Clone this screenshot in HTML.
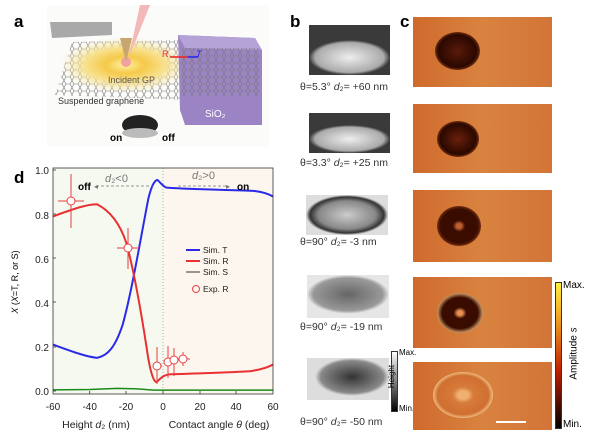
<!DOCTYPE html>
<html><head><meta charset="utf-8"><style>
body{margin:0;width:600px;height:439px;background:#fff;overflow:hidden;position:relative;font-family:"Liberation Sans",sans-serif}
.abs{position:absolute}
.lab{position:absolute;font-weight:bold;font-size:17px}
.bimg{position:absolute}
.blab{position:absolute;font-size:10.5px;color:#333;white-space:nowrap}
.cimg{position:absolute;left:413px;width:139px;background:linear-gradient(90deg,#cf6a2c,#d98340 50%,#d27437);}
.ring{position:absolute;border-radius:50%}
</style></head><body>
<div class="lab" style="left:14px;top:12px">a</div>
<div class="lab" style="left:290px;top:12px">b</div>
<div class="lab" style="left:400px;top:12px">c</div>
<div class="lab" style="left:14px;top:168px">d</div>

<!-- panel a -->
<svg class="abs" style="left:0;top:0" width="290" height="160">
<defs><pattern id="hx" width="8" height="7" patternUnits="userSpaceOnUse"><path d="M0 3.5 L2 0 L6 0 L8 3.5 L6 7 L2 7Z" fill="none" stroke="#777" stroke-width="0.6"/></pattern>
<radialGradient id="yl"><stop offset="0" stop-color="#fff2a0"/><stop offset="0.3" stop-color="#f5c94a"/><stop offset="0.6" stop-color="#f8e08a"/><stop offset="1" stop-color="#f6e9b0" stop-opacity="0"/></radialGradient></defs>
<rect x="47" y="5" width="222" height="142" fill="#fbfbfa"/>
<path d="M72 42 L190 40 L185 100 L55 95Z" fill="url(#hx)"/>
<ellipse cx="125" cy="65" rx="65" ry="28" fill="url(#yl)"/>
<circle cx="126" cy="62" r="5" fill="#f3a0a0"/>
<path d="M50 22 L112 22 L112 35 L52 38Z" fill="#a9a9a9"/>
<path d="M120 38 L126 62 L132 38Z" fill="#c8a66f"/>
<path d="M140 5 L128 60 L150 5Z" fill="#f3b8b8"/>
<path d="M178 35 L255 38 L262 50 L262 125 L185 125 L180 110Z" fill="#9c84c4"/>
<path d="M178 35 L255 38 L262 50 L185 48Z" fill="#b5a3d8"/>
<rect x="182" y="48" width="78" height="48" fill="url(#hx)"/>
<text x="205" y="117" font-size="10" fill="#fff">SiO₂</text>
<text x="108" y="83" font-size="9" fill="#555">Incident GP</text>
<text x="58" y="104" font-size="9" fill="#333">Suspended graphene</text>
<text x="162" y="57" font-size="9" fill="#e22">R</text>
<text x="196" y="57" font-size="9" fill="#22e" font-style="italic">T</text>
<path d="M170 57 l18 0" stroke="#e22" stroke-width="1.5"/><path d="M188 57 l10 0" stroke="#22e" stroke-width="1.5"/>
<ellipse cx="140" cy="125" rx="18" ry="10" fill="#222"/>
<ellipse cx="140" cy="133" rx="18" ry="5" fill="#bbb"/>
<text x="110" y="141" font-size="10" font-weight="bold">on</text>
<text x="162" y="141" font-size="10" font-weight="bold">off</text>
</svg>

<!-- panel b -->
<div class="bimg" style="left:309px;top:25px;width:81px;height:50px;background:radial-gradient(ellipse closest-side at 50% 65%,#eee,#aaa 85%,#3a3a3a 100%)"></div>
<div class="blab" style="left:300px;top:81px">θ=5.3°  <i>d</i>₂= +60 nm</div>
<div class="bimg" style="left:309px;top:113px;width:81px;height:40px;background:radial-gradient(ellipse closest-side at 50% 65%,#eee,#aaa 85%,#3a3a3a 100%)"></div>
<div class="blab" style="left:300px;top:157px">θ=3.3°  <i>d</i>₂= +25 nm</div>
<div class="bimg" style="left:306px;top:195px;width:82px;height:40px;background:radial-gradient(ellipse closest-side at 50% 50%,#ccc,#888 70%,#333 90%,#ddd 100%)"></div>
<div class="blab" style="left:300px;top:236px">θ=90°  <i>d</i>₂= -3 nm</div>
<div class="bimg" style="left:307px;top:275px;width:82px;height:43px;background:radial-gradient(ellipse closest-side at 50% 45%,#666,#999 85%,#e6e6e6 100%)"></div>
<div class="blab" style="left:300px;top:321px">θ=90°  <i>d</i>₂= -19 nm</div>
<div class="bimg" style="left:307px;top:358px;width:82px;height:42px;background:radial-gradient(ellipse closest-side at 55% 45%,#333,#888 85%,#ddd 100%)"></div>
<div class="blab" style="left:300px;top:416px">θ=90°  <i>d</i>₂= -50 nm</div>
<div class="abs" style="left:391px;top:351px;width:5px;height:59px;background:linear-gradient(#fff,#000);border:1px solid #333"></div>
<div class="abs" style="left:399px;top:348px;font-size:8px">Max.</div>
<div class="abs" style="left:399px;top:404px;font-size:8px">Min.</div>

<!-- panel c -->
<div class="cimg" style="top:17px;height:70px"><div class="ring" style="left:22px;top:15px;width:45px;height:38px;background:radial-gradient(#5a1a0a,#2a0800 60%,#8a3a15 75%)"></div></div>
<div class="cimg" style="top:104px;height:69px"><div class="ring" style="left:24px;top:17px;width:42px;height:36px;background:radial-gradient(#6a200a,#2a0800 60%,#8a3a15 75%)"></div></div>
<div class="cimg" style="top:190px;height:72px"><div class="ring" style="left:24px;top:16px;width:44px;height:40px;background:radial-gradient(#c06030 8%,#3a0c00 20%,#3a0c00 60%,#a04a20 80%)"></div></div>
<div class="cimg" style="top:277px;height:71px"><div class="ring" style="left:24px;top:16px;width:46px;height:40px;background:radial-gradient(#e89050 8%,#3a0c00 20%,#3a0c00 55%,#f5c080 75%,#c86a30 85%)"></div></div>
<div class="cimg" style="top:362px;height:68px"><div class="ring" style="left:20px;top:10px;width:60px;height:46px;background:radial-gradient(#f0b070 12%,#d77a3a 25%,#cf6f30 60%,#fcd9a0 75%,#c86a30 85%)"></div><div class="abs" style="left:83px;top:59px;width:30px;height:2px;background:#fff"></div></div>
<div class="abs" style="left:555px;top:282px;width:5px;height:145px;background:linear-gradient(#ffef40,#f0a020 25%,#c02000 60%,#000);border:1px solid #333"></div>
<div class="abs" style="left:563px;top:280px;font-size:10px">Max.</div>
<div class="abs" style="left:563px;top:419px;font-size:10px">Min.</div>
<div class="abs" style="left:548px;top:348px;font-size:10px;transform:rotate(-90deg);white-space:nowrap">Amplitude <i>s</i></div>

<!-- panel d -->
<svg class="abs" style="left:0;top:0" width="290" height="439" font-family="Liberation Sans, sans-serif">
<rect x="53" y="168" width="110" height="226" fill="#f5f9f0"/>
<rect x="163" y="168" width="110" height="226" fill="#fdf6ee"/>
<line x1="163" y1="168" x2="163" y2="394" stroke="#999" stroke-dasharray="1,2" stroke-width="0.8"/>
<g transform="translate(163,391) scale(1.8333,-221)" fill="none">
<path vector-effect="non-scaling-stroke" stroke="#2a2ae8" stroke-width="2" d="M-60 .21 C-50 .18 -42 .155 -36 .15 C-30 .16 -26 .2 -22 .3 C-17 .45 -12 .7 -8 .87 C-6 .94 -4 .955 -3 .955 C-1 .94 0 .925 2 .92 C20 .91 40 .91 50 .905 C55 .9 58 .89 60 .88"/>
<path vector-effect="non-scaling-stroke" stroke="#e83030" stroke-width="2" d="M-60 .79 C-50 .82 -42 .845 -36 .845 C-30 .82 -24 .77 -20 .67 C-16 .55 -12 .36 -9 .2 C-7 .08 -5 .04 -3.5 .04 C-1 .06 0 .07 3 .075 C20 .08 40 .085 48 .09 C55 .1 58 .11 60 .12"/>
<path vector-effect="non-scaling-stroke" stroke="#1a8a1a" stroke-width="1.5" d="M-60 .005 L-40 .007 L-25 .012 L-15 .01 L-5 .004 L60 .004"/>
</g>
<g stroke="#e84040" stroke-width="1" fill="#fff">
<path d="M71 174 V228 M58 201 H84 M128 228 V269 M117 248 H139 M157 347 V384 M153 366 H162 M168 346 V378 M164 362 H173 M174 348 V376 M169 360 H179 M183 352 V366 M177 359 H190"/>
<circle cx="71" cy="201" r="4"/><circle cx="128" cy="248" r="4"/><circle cx="157" cy="366" r="4"/><circle cx="168" cy="362" r="4"/><circle cx="174" cy="360" r="4"/><circle cx="183" cy="359" r="4"/>
</g>
<g stroke="#777" stroke-dasharray="3,2" stroke-width="0.8"><line x1="96" y1="186" x2="153" y2="186"/><line x1="178" y1="186" x2="226" y2="186"/></g>
<text x="78" y="190" font-size="10" font-weight="bold">off</text>
<text x="94" y="189" font-size="8" fill="#777">◂</text>
<text x="226" y="189" font-size="8" fill="#777">▸</text>
<text x="237" y="190" font-size="10" font-weight="bold">on</text>
<text x="105" y="182" font-size="11" fill="#777"><tspan font-style="italic">d</tspan>₂&lt;0</text>
<text x="192" y="179" font-size="11" fill="#777"><tspan font-style="italic">d</tspan>₂&gt;0</text>
<rect x="53" y="168" width="220" height="226" fill="none" stroke="#333" stroke-width="0.8"/>
<g font-size="10" fill="#222" text-anchor="end">
<text x="49" y="174">1.0</text><text x="49" y="219">0.8</text><text x="49" y="263">0.6</text><text x="49" y="307">0.4</text><text x="49" y="351">0.2</text><text x="49" y="395">0.0</text></g>
<g stroke="#333" stroke-width="0.8"><path d="M53 170h3M53 214h3M53 258h3M53 302h3M53 347h3M53 391h3M89.7 394v-3M126 394v-3M163 394v-3M200 394v-3M236 394v-3"/></g>
<g font-size="10" fill="#222" text-anchor="middle">
<text x="53" y="410">-60</text><text x="89.7" y="410">-40</text><text x="126" y="410">-20</text><text x="163" y="410">0</text><text x="200" y="410">20</text><text x="236" y="410">40</text><text x="273" y="410">60</text>
<text x="96" y="428" font-size="10.5">Height <tspan font-style="italic">d</tspan>₂ (nm)</text>
<text x="219" y="428" font-size="10.5">Contact angle <tspan font-style="italic">θ</tspan> (deg)</text></g>
<text transform="translate(18,282) rotate(-90)" font-size="9" text-anchor="middle"><tspan font-style="italic">X</tspan> (<tspan font-style="italic">X</tspan>=T, R, or S)</text>
<g font-size="8.5" fill="#222">
<line x1="186" y1="250" x2="200" y2="250" stroke="#2a2ae8" stroke-width="2"/><text x="203" y="253">Sim. T</text>
<line x1="186" y1="261" x2="200" y2="261" stroke="#e83030" stroke-width="2"/><text x="203" y="264">Sim. R</text>
<line x1="186" y1="272" x2="200" y2="272" stroke="#333" stroke-width="1"/><text x="203" y="275">Sim. S</text>
<circle cx="196" cy="289" r="3.5" fill="none" stroke="#e84040"/><text x="203" y="292">Exp. R</text></g>
</svg>
<div class="abs" style="left:380px;top:372px;font-size:8px;transform:rotate(-90deg)">Height</div>
</body></html>
